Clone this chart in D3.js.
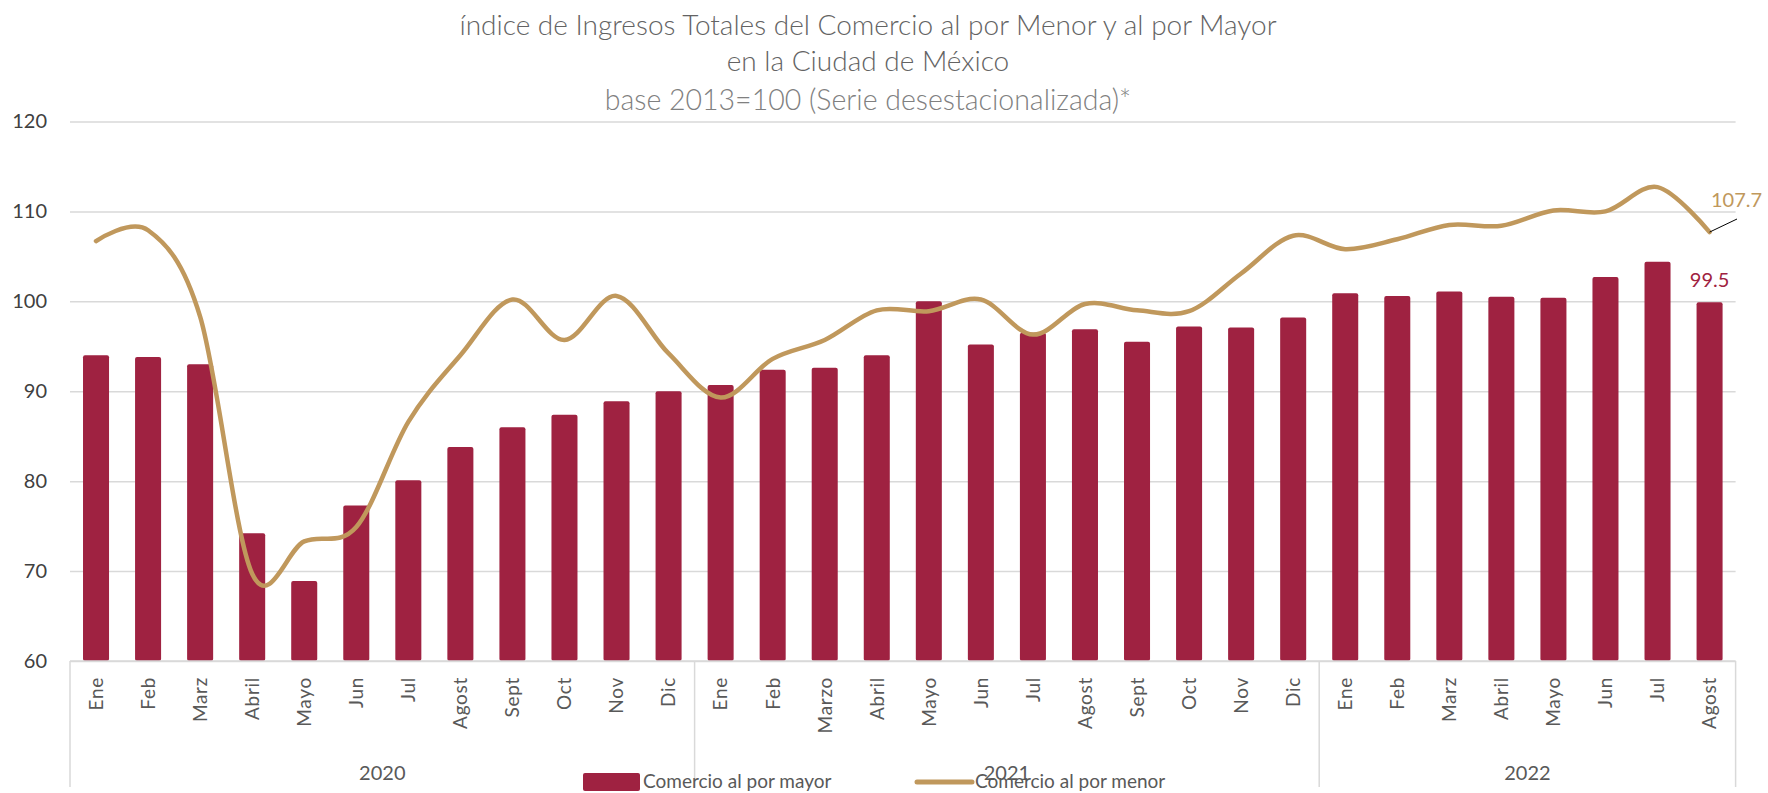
<!DOCTYPE html>
<html>
<head>
<meta charset="utf-8">
<script src="https://cdn.jsdelivr.net/npm/d3@7/dist/d3.min.js"></script>
<style>
  html, body { margin: 0; padding: 0; background: #ffffff; }
  svg { display: block; font-family: Lato, "Open Sans", sans-serif; }
</style>
</head>
<body>
<svg id="chart" width="1768" height="793"></svg>
<script>
// ---------------- DATA ----------------
const titleLines = ["índice de Ingresos Totales del Comercio al por Menor y al por Mayor", "en la Ciudad de México"];
const subtitle = "base 2013=100 (Serie desestacionalizada)*";
const months = ["Ene","Feb","Marz","Abril","Mayo","Jun","Jul","Agost","Sept","Oct","Nov","Dic",
                "Ene","Feb","Marzo","Abril","Mayo","Jun","Jul","Agost","Sept","Oct","Nov","Dic",
                "Ene","Feb","Marz","Abril","Mayo","Jun","Jul","Agost"];
const years = ["2020","2021","2022"];
const yearCounts = [12, 12, 8];
const mayor = [94.0,93.8,93.0,74.2,68.9,77.3,80.1,83.8,86.0,87.4,88.9,90.0,
               90.7,92.4,92.6,94.0,100.0,95.2,96.5,96.9,95.5,97.2,97.1,98.2,
               100.9,100.6,101.1,100.5,100.4,102.7,104.4,99.9];
const menor = [106.7,107.9,98.3,69.7,73.3,74.9,86.6,94.0,100.2,95.7,100.6,94.2,
               89.3,93.6,95.7,99.0,98.9,100.2,96.3,99.7,99.0,98.9,103.1,107.3,
               105.8,106.9,108.5,108.4,110.1,110.0,112.7,107.7];
const yTicks = [60,70,80,90,100,110,120];
const seriesNames = ["Comercio al por mayor", "Comercio al por menor"];
const lastLabels = ["107.7", "99.5"];

// ---------------- LAYOUT ----------------
const colBar = "#9F2241", colLine = "#C0985C", grid = "#D9D9D9";
const svg = d3.select("#chart");
const pLeft = 70, pRight = 1735.6, pTop = 121.5, pBottom = 661;

const idx = d3.range(months.length);
const x = d3.scaleBand().domain(idx).range([pLeft, pRight]).paddingInner(0.5).paddingOuter(0.25);
const xc = i => x(i) + x.bandwidth() / 2;
const y = d3.scaleLinear().domain([60, 120]).range([pBottom, pTop]);

// title
svg.append("g").selectAll("text").data(titleLines).join("text")
  .attr("x", 868).attr("y", (d, i) => 35 + i * 36)
  .attr("text-anchor", "middle").attr("fill", "#636363")
  .style("font-size", "28px").style("font-weight", 300).text(d => d);
svg.append("text").attr("x", 868).attr("y", 110).attr("text-anchor", "middle")
  .attr("fill", "#808080").style("font-size", "28.5px").style("font-weight", 300).text(subtitle);

// gridlines + y axis
const yAxis = d3.axisLeft(y).tickValues(yTicks).tickSize(-(pRight - pLeft)).tickPadding(23).tickFormat(d3.format("d"));
const gy = svg.append("g").attr("transform", `translate(${pLeft},0)`).call(yAxis);
gy.select(".domain").remove();
gy.selectAll(".tick line").attr("stroke", grid).attr("stroke-width", 1.5);
gy.selectAll(".tick text").attr("fill", "#404040").style("font-size", "20px").style("font-family", "Lato, sans-serif");

// bars
svg.append("g").selectAll("rect").data(mayor).join("rect")
  .attr("x", (d, i) => x(i)).attr("width", x.bandwidth())
  .attr("y", d => y(d)).attr("height", d => y(60) - y(d))
  .attr("rx", 2).attr("fill", colBar);

// x axis baseline
svg.append("line").attr("x1", pLeft).attr("x2", pRight).attr("y1", pBottom).attr("y2", pBottom)
  .attr("stroke", grid).attr("stroke-width", 1.5);

// group separators
const bounds = [0];
yearCounts.forEach(c => bounds.push(bounds[bounds.length - 1] + c));
const bx = b => pLeft + b * x.step();
svg.append("g").selectAll("line").data(bounds).join("line")
  .attr("x1", b => bx(b)).attr("x2", b => bx(b)).attr("y1", pBottom).attr("y2", 787)
  .attr("stroke", grid).attr("stroke-width", 1.5);

// month labels
svg.append("g").selectAll("text").data(months).join("text")
  .attr("transform", (d, i) => `translate(${xc(i)},677) rotate(-90)`)
  .attr("text-anchor", "end").attr("dy", "0.36em")
  .attr("fill", "#595959").style("font-size", "19px").style("letter-spacing", "0.7px").text(d => d);

// year labels
svg.append("g").selectAll("text").data(years).join("text")
  .attr("x", (d, i) => (bx(bounds[i]) + bx(bounds[i + 1])) / 2).attr("y", 780)
  .attr("text-anchor", "middle").attr("fill", "#595959").style("font-size", "20px").text(d => d);

// line
const line = d3.line().x((d, i) => xc(i)).y(d => y(d)).curve(d3.curveCatmullRom.alpha(0));
svg.append("path").datum(menor).attr("d", line).attr("fill", "none")
  .attr("stroke", colLine).attr("stroke-width", 4.5).attr("stroke-linecap", "round");

// end labels
const last = months.length - 1;
svg.append("line").attr("x1", xc(last)).attr("y1", y(menor[last]))
  .attr("x2", 1737).attr("y2", 219).attr("stroke", "#000").attr("stroke-width", 1);
svg.append("text").attr("x", 1711).attr("y", 207).attr("fill", colLine)
  .style("font-size", "20px").text(lastLabels[0]);
svg.append("text").attr("x", xc(last)).attr("y", 287).attr("text-anchor", "middle").attr("fill", colBar)
  .style("font-size", "20px").text(lastLabels[1]);

// legend
const lg = svg.append("g");
lg.append("rect").attr("x", 583).attr("y", 773).attr("width", 57).attr("height", 18).attr("rx", 2).attr("fill", colBar);
lg.append("text").attr("x", 643).attr("y", 788).attr("fill", "#595959").style("font-size", "19px").text(seriesNames[0]);
lg.append("line").attr("x1", 917).attr("x2", 972).attr("y1", 782).attr("y2", 782)
  .attr("stroke", colLine).attr("stroke-width", 5).attr("stroke-linecap", "round");
lg.append("text").attr("x", 975).attr("y", 788).attr("fill", "#595959").style("font-size", "19px").text(seriesNames[1]);
</script>
</body>
</html>
